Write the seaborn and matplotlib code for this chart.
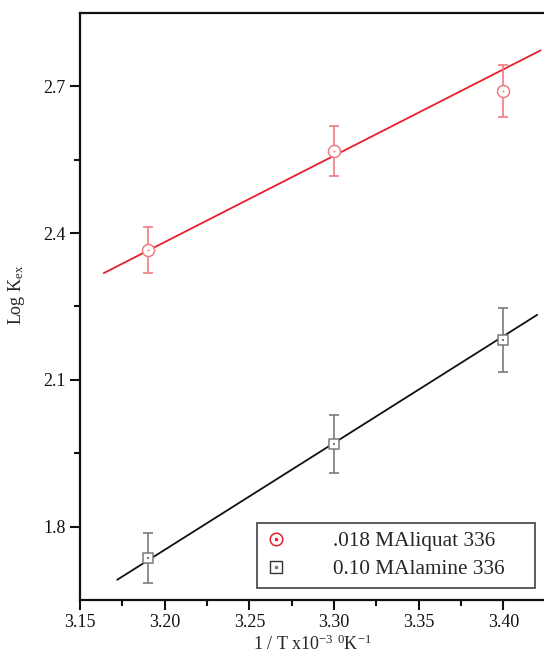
import numpy as np
import pandas as pd
import matplotlib
matplotlib.use("Agg")
import matplotlib.pyplot as plt
import seaborn as sns
from matplotlib.ticker import MultipleLocator
from matplotlib.lines import Line2D

# data
x_pts = [3.19, 3.30, 3.40]
aliquat_y = [2.365, 2.567, 2.690]
aliquat_err = [0.047, 0.051, 0.054]
alamine_y = [1.737, 1.969, 2.182]
alamine_err = [0.051, 0.059, 0.065]
aliquat_fit_x = [3.164, 3.422]
aliquat_fit_y = [2.318, 2.773]
alamine_fit_x = [3.172, 3.420]
alamine_fit_y = [1.692, 2.233]
labels = [".018 MAliquat 336", "0.10 MAlamine 336"]

sns.set_style("ticks")
plt.rcParams['font.family'] = ['Liberation Serif', 'DejaVu Serif']
plt.rcParams['mathtext.fontset'] = 'custom'
plt.rcParams['mathtext.rm'] = 'Liberation Serif'
plt.rcParams['mathtext.it'] = 'Liberation Serif'

fig = plt.figure(figsize=(5.44, 6.57), dpi=100)
ax = fig.add_axes([0.147, 0.087, 0.853, 0.893])

red = '#e8202a'
red_light = '#ef7a80'
blk = '#111111'
gray = '#7a7a7a'

df_a = pd.DataFrame({'x': aliquat_fit_x, 'y': aliquat_fit_y})
df_b = pd.DataFrame({'x': alamine_fit_x, 'y': alamine_fit_y})
sns.lineplot(data=df_a, x='x', y='y', color=red, lw=1.3, ax=ax)
sns.lineplot(data=df_b, x='x', y='y', color=blk, lw=1.3, ax=ax)

ax.errorbar(x_pts, aliquat_y, yerr=aliquat_err, fmt='none', ecolor=red_light,
            elinewidth=1.2, capsize=3.5, capthick=1.2, zorder=3)
ax.errorbar(x_pts, alamine_y, yerr=alamine_err, fmt='none', ecolor=gray,
            elinewidth=1.2, capsize=3.5, capthick=1.2, zorder=3)

pa = pd.DataFrame({'x': x_pts, 'y': aliquat_y})
pb = pd.DataFrame({'x': x_pts, 'y': alamine_y})
sns.scatterplot(data=pa, x='x', y='y', marker='o', s=75, facecolor='white',
                edgecolor=red_light, linewidth=1.1, ax=ax, zorder=4)
sns.scatterplot(data=pa, x='x', y='y', marker='o', s=2, color=red_light,
                linewidth=0, ax=ax, zorder=5)
sns.scatterplot(data=pb, x='x', y='y', marker='s', s=60, facecolor='white',
                edgecolor=gray, linewidth=1.1, ax=ax, zorder=4)
sns.scatterplot(data=pb, x='x', y='y', marker='s', s=2, color=gray,
                linewidth=0, ax=ax, zorder=5)

ax.set_xlim(3.15, 3.424)
ax.set_ylim(1.651, 2.849)
ax.xaxis.set_major_locator(MultipleLocator(0.05))
ax.xaxis.set_minor_locator(MultipleLocator(0.025))
ax.yaxis.set_major_locator(MultipleLocator(0.3))
ax.yaxis.set_minor_locator(MultipleLocator(0.15))
ax.xaxis.set_major_formatter(matplotlib.ticker.FormatStrFormatter('%.2f'))
ax.yaxis.set_major_formatter(matplotlib.ticker.FormatStrFormatter('%.1f'))
ax.tick_params(which='major', direction='out', length=7, width=1.5, labelsize=13, colors=blk, pad=3.5)
ax.tick_params(which='minor', direction='out', length=4, width=1.5, colors=blk)
for s in ['left', 'bottom', 'top']:
    ax.spines[s].set_linewidth(1.6)
    ax.spines[s].set_color(blk)
ax.spines['right'].set_visible(False)
fig.canvas.draw()
ax.xaxis.get_major_ticks()[0].tick1line.set_visible(False)

ax.set_xlabel(r'1 / T x10$^{-3}$ $^{0}$K$^{-1}$', fontsize=13, labelpad=2)
ax.set_ylabel(r'Log K$_{\mathrm{ex}}$', fontsize=13)
ax.yaxis.set_label_coords(-0.115, 0.52)

h1 = (Line2D([], [], ls='none', marker='o', ms=9, mfc='white', mec=red, mew=1.1),
      Line2D([], [], ls='none', marker='o', ms=1.5, mfc=red, mec=red))
h2 = (Line2D([], [], ls='none', marker='s', ms=8, mfc='white', mec='#333333', mew=1.0),
      Line2D([], [], ls='none', marker='s', ms=1.5, mfc=gray, mec=gray))
leg = ax.legend([h1, h2], labels, loc='lower left', bbox_to_anchor=(0.381, 0.0204, 0.6, 0.108),
                mode='expand', fontsize=15.3, frameon=True, fancybox=False, edgecolor=blk,
                handletextpad=2.2, borderpad=0.4, labelspacing=0.38, handlelength=1.0,
                borderaxespad=0)
leg.get_frame().set_linewidth(1.2)

fig.savefig('out.png', dpi=100)
